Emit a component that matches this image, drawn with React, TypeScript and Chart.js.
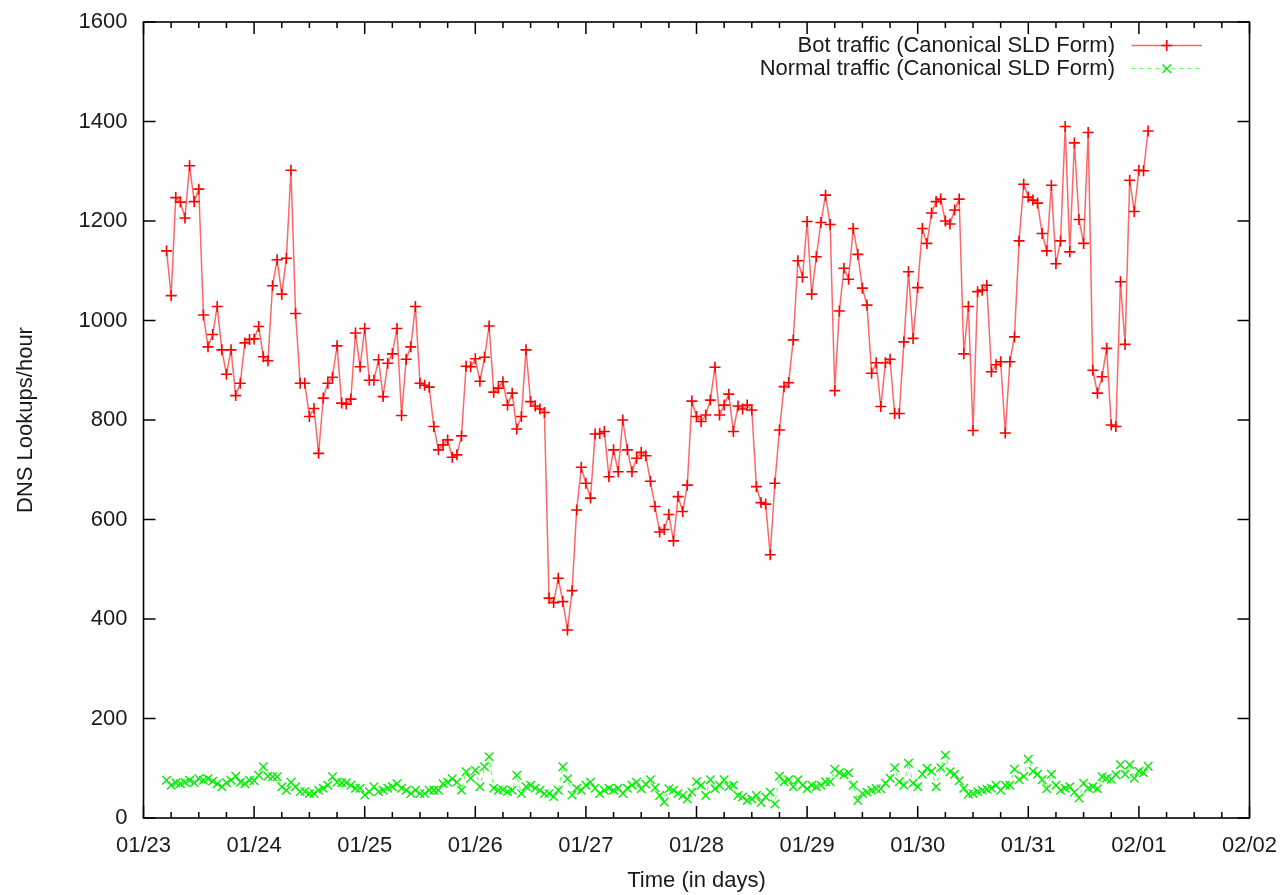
import React, { useEffect, useRef } from "react";
import { Chart, registerables } from "chart.js";

Chart.register(...registerables);

// ---- data ----
const dayLabels = ["01/23", "01/24", "01/25", "01/26", "01/27", "01/28", "01/29", "01/30", "01/31", "02/01", "02/02"];
const yTickValues = [0, 200, 400, 600, 800, 1000, 1200, 1400, 1600];
const firstHour = 5; // first sample: 01/23 05:00, one sample per hour
const seriesNames = ["Bot traffic (Canonical SLD Form)", "Normal traffic (Canonical SLD Form)"];

const botTraffic = [
  1140, 1050, 1247, 1238, 1206, 1311, 1239, 1264, 1011, 947, 972, 1028, 941, 892, 941, 849, 874, 955, 962, 963,
  988, 927, 919, 1070, 1122, 1053, 1125, 1302, 1014, 874, 874, 807, 823, 733,
  844, 874, 886, 949, 834, 832, 842, 975, 907, 984, 880, 880, 921, 847, 914, 933, 984, 809, 922, 947,
  1028, 874, 870, 866, 787, 740, 750, 760, 725, 730, 768, 908, 907, 923, 878,
  926, 989, 856, 864, 877, 830, 854, 782, 807, 941, 837, 828, 822, 815, 442, 433, 482, 435, 378, 457,
  619, 705, 673, 643, 772, 773, 777, 686, 740, 696, 800, 740, 696, 723,
  735, 728, 677, 626, 575, 580, 610, 557, 646, 616, 669, 838, 807, 797, 810, 840, 906, 810, 830, 852,
  777, 828, 822, 830, 820, 666, 634, 631, 529, 673, 780, 867, 875, 961,
  1120, 1087, 1199, 1053, 1128, 1197, 1252, 1193, 859, 1019, 1105, 1083, 1185, 1133, 1065, 1031, 894, 915, 827, 915,
  922, 813, 813, 957, 1098, 964, 1066, 1185, 1155, 1216, 1239, 1244, 1200, 1194, 1222,
  1244, 933, 1028, 779, 1058, 1061, 1071, 897, 911, 917, 774, 917, 967, 1160, 1274, 1248, 1242, 1236, 1175, 1140,
  1272, 1114, 1160, 1390, 1138, 1357, 1203, 1155, 1378, 900, 854, 887, 944, 790, 787, 1078, 952, 1282, 1219, 1302,
  1301, 1381,
];

const normalTraffic = [
  76, 66, 71, 69, 72, 76, 71, 79, 76, 79, 74,
  69, 63, 71, 76, 84, 72, 69, 76, 75, 86, 103, 84,
  83, 83, 63, 56, 72, 63, 53, 53, 49, 49, 56, 60,
  66, 83, 72, 71, 71, 66, 60, 60, 46, 53, 63, 53,
  56, 60, 63, 69, 60, 56, 49, 56, 49, 49, 56, 56,
  56, 69, 72, 79, 72, 56, 93, 80, 96, 63, 103, 123, 60,
  56, 57, 53, 56, 86, 49, 63, 66, 60, 56, 49, 49, 43,
  56, 103, 79, 46, 60, 56, 66, 72, 60, 49, 56, 60,
  56, 60, 49, 60, 66, 72,
  59, 68, 77, 61, 45, 32, 59, 56, 49, 45, 38, 52,
  73, 66, 45, 77, 59, 66, 77, 63, 66, 45, 42, 35,
  38, 45, 31, 42, 52, 28, 84, 73, 77, 63, 77, 66,
  59, 66, 63, 66, 73, 73, 98, 91, 87, 91, 66, 35,
  49, 52, 56, 59, 59, 70, 80, 101, 73, 66, 110, 70,
  63, 88, 100, 94, 63, 101, 126, 93, 88, 75, 60, 48,
  49, 53, 56, 58, 60, 66, 56, 66, 66, 98, 77, 84,
  118, 94, 88, 77, 59, 88, 66, 56, 60, 63, 52, 40,
  70, 60, 63, 59, 83, 80, 78, 87, 107, 88, 107, 80,
  94, 91, 104,
];

const FONT = '"Liberation Sans", Arial, Helvetica, sans-serif';
const TEXT = "#1a1a1a";

const toPoints = (vals: number[]) => vals.map((v, i) => ({ x: firstHour + i, y: v }));

const framePlugin = {
  id: "gnuplotFrame",
  beforeDatasetsDraw(chart: any) {
    const { ctx, chartArea, scales } = chart;
    const { left, right, top, bottom } = chartArea;
    const x = scales.x;
    const y = scales.y;
    const line = (x1: number, y1: number, x2: number, y2: number) => {
      ctx.beginPath();
      ctx.moveTo(x1, y1);
      ctx.lineTo(x2, y2);
      ctx.stroke();
    };
    ctx.save();
    ctx.strokeStyle = "#000";
    ctx.lineWidth = 1.5;
    ctx.setLineDash([]);
    const maxHour = (dayLabels.length - 1) * 24;
    for (let h = 0; h <= maxHour; h += 6) {
      const px = x.getPixelForValue(h);
      const len = h % 24 === 0 ? 12 : 6;
      line(px, bottom, px, bottom - len);
      line(px, top, px, top + len);
    }
    for (const v of yTickValues) {
      const py = y.getPixelForValue(v);
      line(left, py, left + 12, py);
      line(right, py, right - 12, py);
    }
    ctx.lineWidth = 1.6;
    ctx.strokeRect(left, top, right - left, bottom - top);
    ctx.restore();
  },
};

const legendPlugin = {
  id: "gnuplotLegend",
  afterDraw(chart: any) {
    const { ctx, chartArea } = chart;
    const textRight = chartArea.right - 134.5;
    const sampleL = chartArea.right - 118;
    const sampleR = chartArea.right - 47.5;
    chart.data.datasets.forEach((ds: any, i: number) => {
      const yc = chartArea.top + 23.5 + i * 23.2;
      ctx.save();
      ctx.font = `22px ${FONT}`;
      ctx.fillStyle = TEXT;
      ctx.textAlign = "right";
      ctx.textBaseline = "middle";
      ctx.fillText(ds.label, textRight, yc);
      ctx.strokeStyle = ds.borderColor;
      ctx.lineWidth = ds.borderWidth;
      ctx.setLineDash(ds.borderDash || []);
      ctx.beginPath();
      ctx.moveTo(sampleL, yc);
      ctx.lineTo(sampleR, yc);
      ctx.stroke();
      ctx.setLineDash([]);
      const cx = (sampleL + sampleR) / 2;
      const r = ds.pointRadius;
      ctx.strokeStyle = ds.pointBorderColor;
      ctx.lineWidth = ds.pointBorderWidth;
      ctx.beginPath();
      if (ds.pointStyle === "cross") {
        ctx.moveTo(cx - r, yc);
        ctx.lineTo(cx + r, yc);
        ctx.moveTo(cx, yc - r);
        ctx.lineTo(cx, yc + r);
      } else {
        const d = r * 0.7071;
        ctx.moveTo(cx - d, yc - d);
        ctx.lineTo(cx + d, yc + d);
        ctx.moveTo(cx - d, yc + d);
        ctx.lineTo(cx + d, yc - d);
      }
      ctx.stroke();
      ctx.restore();
    });
  },
};

const zeroPadding = (s: any) => {
  s.paddingLeft = 0;
  s.paddingRight = 0;
  s.paddingTop = 0;
  s.paddingBottom = 0;
};

export default function App() {
  const canvasRef = useRef<HTMLCanvasElement | null>(null);

  useEffect(() => {
    document.body.style.margin = "0";
    document.body.style.background = "#fff";
    const canvas = canvasRef.current;
    if (!canvas) return;
    const chart = new Chart(canvas, {
      type: "line",
      data: {
        datasets: [
          {
            label: seriesNames[0],
            data: toPoints(botTraffic),
            borderColor: "rgba(255,0,0,0.6)",
            borderWidth: 1.5,
            pointStyle: "cross",
            pointRadius: 5.5,
            pointBorderColor: "#ff0000",
            pointBorderWidth: 1.6,
            pointBackgroundColor: "#ff0000",
            tension: 0,
            fill: false,
          },
          {
            label: seriesNames[1],
            data: toPoints(normalTraffic),
            borderColor: "rgba(0,255,0,0.7)",
            borderWidth: 1,
            borderDash: [4, 4],
            pointStyle: "crossRot",
            pointRadius: 6,
            pointBorderColor: "#00f000",
            pointBorderWidth: 1.4,
            pointBackgroundColor: "#00f000",
            tension: 0,
            fill: false,
          },
        ],
      },
      options: {
        responsive: false,
        animation: false,
        devicePixelRatio: 1,
        layout: { padding: { top: 22, right: 33.5, left: 0, bottom: 0 } },
        plugins: {
          legend: { display: false },
          tooltip: { enabled: false },
        },
        scales: {
          x: {
            type: "linear",
            min: 0,
            max: (dayLabels.length - 1) * 24,
            grid: { display: false, drawTicks: false },
            border: { display: false },
            ticks: {
              stepSize: 24,
              autoSkip: false,
              maxRotation: 0,
              padding: 15,
              color: TEXT,
              font: { family: FONT, size: 22 },
              callback: (v: any) => dayLabels[Math.round(Number(v) / 24)] ?? "",
            },
            title: {
              display: true,
              text: "Time (in days)",
              color: TEXT,
              font: { family: FONT, size: 22 },
              padding: { top: 0, bottom: 1 },
            },
            afterFit: (s: any) => {
              s.height = 77;
              zeroPadding(s);
            },
          },
          y: {
            min: 0,
            max: 1600,
            grid: { display: false, drawTicks: false },
            border: { display: false },
            afterBuildTicks: (s: any) => {
              s.ticks = yTickValues.map((v) => ({ value: v }));
            },
            ticks: {
              padding: 16,
              color: TEXT,
              font: { family: FONT, size: 22 },
              callback: (v: any) => String(v),
            },
            title: {
              display: true,
              text: "DNS Lookups/hour",
              color: TEXT,
              font: { family: FONT, size: 22 },
              padding: { top: 13, bottom: 0 },
            },
            afterFit: (s: any) => {
              s.width = 143.5;
              zeroPadding(s);
            },
          },
        },
      },
      plugins: [framePlugin, legendPlugin],
    });
    return () => chart.destroy();
  }, []);

  return (
    <div style={{ width: 1283, height: 895, position: "relative", background: "#fff" }}>
      <canvas ref={canvasRef} width={1283} height={895} style={{ display: "block" }} />
    </div>
  );
}
